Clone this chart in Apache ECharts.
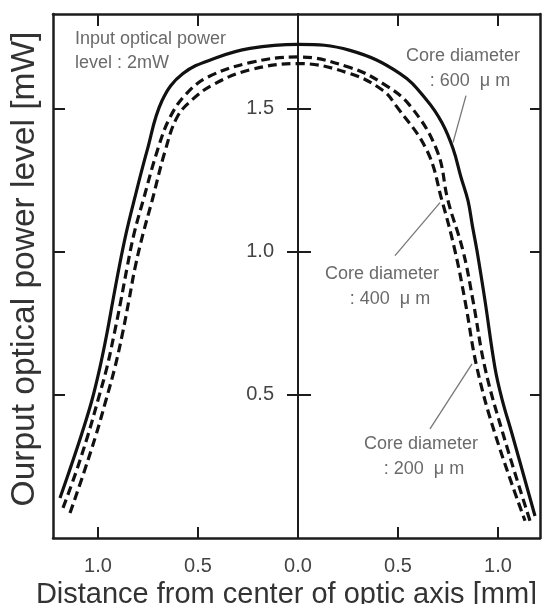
<!DOCTYPE html>
<html>
<head>
<meta charset="utf-8">
<script src="https://cdn.jsdelivr.net/npm/echarts@6/dist/echarts.min.js"></script>
<style>
html,body{margin:0;padding:0;background:#fff;}
#chart{width:544px;height:604px;}
</style>
</head>
<body>
<div id="chart"></div>
<script>
// ---- data ----
const xTicks = [-1.0, -0.5, 0, 0.5, 1.0];
const yTicks = [0.5, 1.0, 1.5];
const xTitle = 'Distance from center of optic axis [mm]';
const yTitle = 'Ourput optical power level [mW]';
const seriesNames = ['Core diameter 600 μm', 'Core diameter 400 μm', 'Core diameter 200 μm'];

// [distance (mm, signed: left negative), power (mW)]
const core600 = [[-1.19,0.14],[-1.135,0.251],[-1.08,0.367],[-1.03,0.482],[-0.99,0.597],[-0.955,0.716],[-0.925,0.831],[-0.895,0.943],[-0.86,1.062],[-0.82,1.177],[-0.755,1.352],[-0.68,1.527],[-0.575,1.622],[-0.405,1.678],[-0.24,1.71],[0,1.724],[0.26,1.703],[0.51,1.622],[0.645,1.528],[0.72,1.45],[0.775,1.36],[0.815,1.26],[0.85,1.178],[0.872,1.09],[0.895,1.003],[0.935,0.829],[0.985,0.594],[1.022,0.48],[1.07,0.364],[1.185,0.077]];
const core400 = [[-1.175,0.105],[-1.11,0.23],[-1.05,0.36],[-1.0,0.482],[-0.955,0.597],[-0.918,0.716],[-0.885,0.831],[-0.855,0.943],[-0.82,1.062],[-0.775,1.177],[-0.7,1.36],[-0.64,1.469],[-0.56,1.55],[-0.45,1.61],[-0.24,1.66],[0,1.68],[0.26,1.643],[0.425,1.587],[0.56,1.51],[0.695,1.353],[0.75,1.178],[0.825,1.003],[0.875,0.829],[0.935,0.594],[1.025,0.364],[1.16,0.06]];
const core200 = [[-1.14,0.087],[-1.07,0.23],[-1.01,0.36],[-0.96,0.482],[-0.915,0.597],[-0.877,0.716],[-0.845,0.831],[-0.815,0.943],[-0.775,1.062],[-0.73,1.177],[-0.665,1.35],[-0.605,1.469],[-0.53,1.53],[-0.42,1.585],[-0.24,1.635],[0,1.657],[0.26,1.622],[0.425,1.563],[0.49,1.51],[0.645,1.353],[0.72,1.178],[0.785,1.003],[0.835,0.829],[0.895,0.594],[0.985,0.364],[1.135,0.06]];

const noteInput = ['Input optical power', 'level : 2mW'];
const note600 = ['Core diameter', ': 600  μ m'];
const note400 = ['Core diameter', ': 400  μ m'];
const note200 = ['Core diameter', ': 200  μ m'];
// pointer lines in data coords: [from, to]
const ptr600 = [[0.84,1.545],[0.775,1.381]];
const ptr400 = [[0.485,0.986],[0.71,1.171]];
const ptr200 = [[0.66,0.381],[0.87,0.608]];

// ---- chart ----
const FF = '"Liberation Sans", Arial, sans-serif';
const AX = '#1c1c1c';
const X_MIN = -1.225, X_MAX = 1.21, Y_MIN = 0, Y_MAX = 1.83;
const G = {left:53,right:4,top:14,bottom:66};
const gridW = 544 - G.left - G.right;
const zeroOffset = -((0 - X_MIN) / (X_MAX - X_MIN)) * gridW;

const chart = echarts.init(document.getElementById('chart'), null, {renderer:'canvas'});

function frameAxis(extra){
  return Object.assign({
    type:'value',
    axisLine:{show:true,onZero:false,lineStyle:{color:AX,width:2.5}},
    axisLabel:{show:false},
    splitLine:{show:false}
  }, extra);
}

const option = {
  animation:false,
  backgroundColor:'#fff',
  grid:Object.assign({containLabel:false, outerBoundsMode:'none'}, G),
  xAxis:[
    frameAxis({
      min:X_MIN,max:X_MAX,position:'bottom',
      axisTick:{show:true,inside:true,length:11,customValues:xTicks,lineStyle:{color:AX,width:2}},
      axisLabel:{show:true,customValues:xTicks,margin:18,fontSize:20,color:'#444',fontFamily:FF,
        formatter:v=>Math.abs(v).toFixed(1)},
      name:xTitle,nameLocation:'middle',nameGap:24,
      nameTextStyle:{fontSize:29,color:'#333',fontFamily:FF,padding:[0,20,0,0]}
    }),
    frameAxis({
      min:X_MIN,max:X_MAX,position:'top',
      axisTick:{show:true,inside:true,length:12,customValues:xTicks,lineStyle:{color:AX,width:2}}
    })
  ],
  yAxis:[
    frameAxis({
      min:Y_MIN,max:Y_MAX,position:'left',
      axisTick:{show:true,inside:true,length:12,customValues:yTicks,lineStyle:{color:AX,width:2}},
      name:yTitle,nameLocation:'middle',nameGap:11,nameRotate:90,
      nameTextStyle:{fontSize:33.5,color:'#333',fontFamily:FF,padding:[0,0,0,14]}
    }),
    frameAxis({
      min:Y_MIN,max:Y_MAX,position:'right',
      axisTick:{show:true,inside:true,length:10,customValues:yTicks,lineStyle:{color:AX,width:2}}
    }),
    {
      type:'value',min:Y_MIN,max:Y_MAX,position:'left',offset:zeroOffset,
      axisLine:{show:true,onZero:false,lineStyle:{color:AX,width:2}},
      axisTick:{show:true,inside:false,length:11,customValues:yTicks,lineStyle:{color:AX,width:2}},
      axisLabel:{show:true,customValues:yTicks,margin:24,fontSize:20,color:'#444',fontFamily:FF,
        formatter:v=>v.toFixed(1)},
      splitLine:{show:false}
    },
    {
      type:'value',min:Y_MIN,max:Y_MAX,position:'left',offset:zeroOffset,
      axisLine:{show:true,onZero:false,lineStyle:{color:AX,width:2}},
      axisTick:{show:true,inside:true,length:13,customValues:yTicks,lineStyle:{color:AX,width:2}},
      axisLabel:{show:false},
      splitLine:{show:false}
    }
  ],
  series:[
    {name:seriesNames[0],type:'line',data:core600,smooth:0.4,showSymbol:false,
      lineStyle:{color:'#111',width:3.2}},
    {name:seriesNames[1],type:'line',data:core400,smooth:0.4,showSymbol:false,
      lineStyle:{color:'#111',width:3.2,type:[9,5]}},
    {name:seriesNames[2],type:'line',data:core200,smooth:0.4,showSymbol:false,
      lineStyle:{color:'#111',width:3.2,type:[9,5]}}
  ]
};
chart.setOption(option);

function px(p){ return chart.convertToPixel({xAxisIndex:0,yAxisIndex:0}, p); }
function ptrLine(p){
  const a = px(p[0]), b = px(p[1]);
  return {type:'line',shape:{x1:a[0],y1:a[1],x2:b[0],y2:b[1]},style:{stroke:'#777',lineWidth:1.3},z:10};
}
function txt(s, x, y, align){
  return {type:'text',x:x,y:y,z:10,style:{text:s,fill:'#6a6a6a',font:'18px '+FF,
    align:align||'center',verticalAlign:'top'}};
}
chart.setOption({graphic:[
  txt(noteInput[0], 75, 30, 'left'),
  txt(noteInput[1], 75, 54, 'left'),
  txt(note600[0], 463, 47), txt(note600[1], 470, 72),
  txt(note400[0], 382, 265), txt(note400[1], 390, 290),
  txt(note200[0], 421, 435), txt(note200[1], 424, 460),
  ptrLine(ptr600), ptrLine(ptr400), ptrLine(ptr200)
]});
</script>
</body>
</html>
